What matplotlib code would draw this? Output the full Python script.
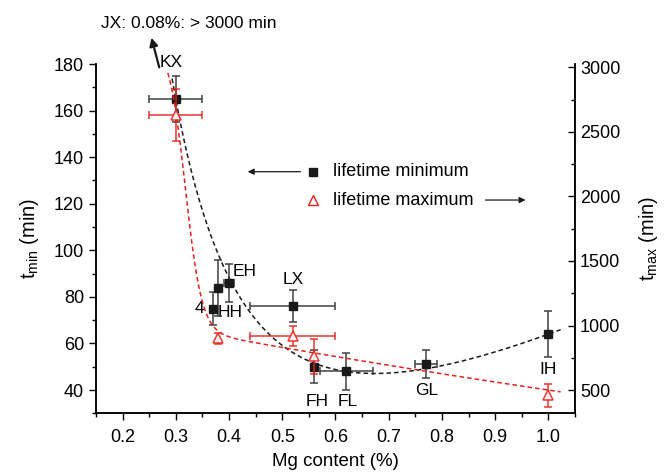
import matplotlib
matplotlib.use('Agg')
import matplotlib.pyplot as plt
import numpy as np

plt.rcParams['font.family'] = ['Liberation Sans', 'DejaVu Sans']
plt.rcParams['font.size'] = 13
plt.rcParams['mathtext.fontset'] = 'custom'
plt.rcParams['mathtext.rm'] = 'Liberation Sans'
plt.rcParams['mathtext.it'] = 'Liberation Sans'

# --------------------------------------------------------------------------------
# data

mg_min = [0.30, 0.37, 0.38, 0.40, 0.52, 0.56, 0.62, 0.77, 1.00]
mg_min_err = [0.05, 0.0, 0.0, 0.01, 0.08, 0.0, 0.05, 0.02, 0.0]
t_min = [165, 75, 84, 86, 76, 50, 48, 51, 64]
t_min_err = [10, 7, 12, 8, 7, 7, 8, 6, 10]

mg_max = [0.30, 0.38, 0.52, 0.56, 1.00]
mg_max_err = [0.05, 0.0, 0.08, 0.0, 0.0]
t_max = [2630, 900, 920, 760, 460]
t_max_err = [200, 40, 75, 135, 90]

# sample labels: (name, x, t_min)
labels = [('KX', 0.292, 180.5), ('EH', 0.43, 90.8), ('LX', 0.52, 87.6),
          ('HH', 0.402, 73.2), ('FH', 0.565, 35.0), ('FL', 0.622, 35.0),
          ('GL', 0.772, 40.0), ('IH', 1.0, 48.6)]

# fitted trend curves (coefficients estimated from the figure)
fit_min = (-73.1, 18.2, 118.9)                  # a + b/x^2 + c*x
fit_max = (1210, -810, 100, 2200, 0.318, 0.0154)  # quad + sigmoid drop


def f_min(x, a, b, c):
    return a + b / x ** 2 + c * x


def f_max(x, a, b, c, h, xc, w):
    return a + b * x + c * x ** 2 + h / (1 + np.exp((x - xc) / w))

# --------------------------------------------------------------------------------

red = '#e3231c'
blk = '#1a1a1a'

fig = plt.figure(figsize=(6.66, 4.76), dpi=100)
ax = fig.add_axes([0.1441, 0.1317, 0.7193, 0.7338])
ax2 = ax.twinx()

ax.errorbar(mg_min, t_min, yerr=t_min_err, xerr=mg_min_err, fmt='s', color=blk,
            ecolor='#404040', elinewidth=1.1, capsize=3, capthick=1.1, ms=6, zorder=4)
ax2.errorbar(mg_max, t_max, yerr=t_max_err, xerr=mg_max_err, fmt='^', mfc='white',
             mec=red, color=red, ecolor=red, elinewidth=1.1, capsize=3, capthick=1.1,
             ms=7.5, mew=1.1, alpha=0.9, zorder=4)

tx = np.linspace(0.293, 1.023, 300)
ax.plot(tx, f_min(tx, *fit_min), '--', color=blk, lw=1.1, dashes=(3, 2), zorder=3)
tx2 = np.linspace(0.285, 1.023, 400)
ax2.plot(tx2, f_max(tx2, *fit_max), '--', color=red, lw=1.1, dashes=(3, 2), zorder=3)

for name, x, y in labels:
    ax.text(x, y, name, ha='center', va='center', fontsize=12.5, clip_on=False)
ax.text(0.354, 75.1, '4', ha='right', va='center', fontsize=12.5)

# legend with direction arrows
ax.plot([0.4537], [0.6917], 's', color=blk, ms=6, transform=ax.transAxes, clip_on=False)
ax.plot([0.4537], [0.6106], '^', mfc='white', mec=red, ms=7, mew=1.0,
        transform=ax.transAxes, clip_on=False)
ax.text(0.494, 0.6917, 'lifetime minimum', transform=ax.transAxes, va='center', fontsize=13)
ax.text(0.494, 0.6106, 'lifetime maximum', transform=ax.transAxes, va='center', fontsize=13)
ax.annotate('', xy=(0.311, 0.6917), xytext=(0.4328, 0.6917), xycoords='axes fraction',
            arrowprops=dict(arrowstyle='-|>', color=blk, lw=0.9, mutation_scale=9))
ax.annotate('', xy=(0.9025, 0.6106), xytext=(0.8073, 0.6106), xycoords='axes fraction',
            arrowprops=dict(arrowstyle='-|>', color=blk, lw=0.9, mutation_scale=9))

ax.text(0.0098, 1.1174, 'JX: 0.08%: > 3000 min', transform=ax.transAxes,
        va='center', ha='left', fontsize=12.5)
ax.annotate('', xy=(0.1142, 1.083), xytext=(0.1336, 0.9828), xycoords='axes fraction',
            arrowprops=dict(arrowstyle='-|>', color=blk, lw=1.6, mutation_scale=12))

# --------------------------------------------------------------------------------

ax.set_xlim(0.15, 1.05)
ax.set_ylim(30, 180)
ax2.set_ylim(320, 3025)

ax.set_xticks(np.arange(0.2, 1.01, 0.1))
ax.set_xticks(np.arange(0.15, 1.051, 0.05), minor=True)
ax.set_xticklabels(['%.1f' % v for v in np.arange(0.2, 1.01, 0.1)])
ax.set_yticks(np.arange(40, 181, 20))
ax.set_yticks(np.arange(30, 181, 10), minor=True)
ax2.set_yticks(np.arange(500, 3001, 500))
ax2.set_yticks(np.arange(500, 3001, 250), minor=True)

ax.tick_params(which='major', direction='out', length=5, width=1, labelsize=13)
ax.tick_params(axis='x', which='major', pad=6)
ax.tick_params(which='minor', direction='out', length=3, width=1)
ax2.tick_params(which='major', direction='in', length=5, width=1, labelsize=13)
ax2.tick_params(which='minor', direction='in', length=3, width=1)

for a in (ax, ax2):
    a.spines['top'].set_visible(False)
    for s in a.spines.values():
        s.set_linewidth(1.1)

ax.set_xlabel('Mg content (%)', fontsize=13.5, labelpad=5)
ax.set_ylabel(r'$\mathregular{t_{min}}$ (min)', fontsize=14.5, labelpad=9)
ax2.set_ylabel(r'$\mathregular{t_{max}}$ (min)', fontsize=14.5, labelpad=12, rotation=90)

fig.savefig('out.png', dpi=100)
